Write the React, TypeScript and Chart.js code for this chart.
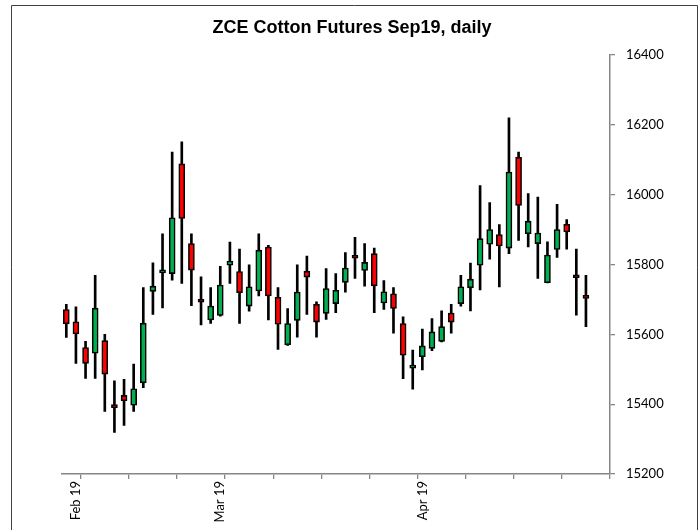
import { useEffect, useRef } from 'react';
import { Chart, registerables } from 'chart.js';

Chart.register(...registerables);

// Trading days (category axis); the last two have no data
const categories = [
  '2019-01-31', '2019-02-01',
  '2019-02-11', '2019-02-12', '2019-02-13', '2019-02-14', '2019-02-15',
  '2019-02-18', '2019-02-19', '2019-02-20', '2019-02-21', '2019-02-22',
  '2019-02-25', '2019-02-26', '2019-02-27', '2019-02-28',
  '2019-03-01',
  '2019-03-04', '2019-03-05', '2019-03-06', '2019-03-07', '2019-03-08',
  '2019-03-11', '2019-03-12', '2019-03-13', '2019-03-14', '2019-03-15',
  '2019-03-18', '2019-03-19', '2019-03-20', '2019-03-21', '2019-03-22',
  '2019-03-25', '2019-03-26', '2019-03-27', '2019-03-28', '2019-03-29',
  '2019-04-01', '2019-04-02', '2019-04-03', '2019-04-04',
  '2019-04-08', '2019-04-09', '2019-04-10', '2019-04-11', '2019-04-12',
  '2019-04-15', '2019-04-16', '2019-04-17', '2019-04-18', '2019-04-19',
  '2019-04-22', '2019-04-23', '2019-04-24', '2019-04-25', '2019-04-26',
  '2019-04-29',
];

const openValues = [
  15671, 15636, 15562, 15546, 15582, 15392, 15425, 15397, 15461, 15723,
  15776, 15774, 16088, 15860, 15694, 15641, 15654, 15798, 15780, 15681,
  15724, 15850, 15706, 15570, 15640, 15781, 15686, 15660, 15688, 15749,
  15820, 15783, 15831, 15690, 15716, 15631, 15503, 15536, 15560, 15580,
  15661, 15688, 15733, 15798, 15858, 15886, 15847, 16107, 15888, 15860,
  15748, 15843, 15915, 15764, 15709, null, null,
];
const highValues = [
  15686, 15679, 15580, 15769, 15600, 15467, 15471, 15515, 15734, 15805,
  15888, 16122, 16151, 15888, 15765, 15734, 15795, 15864, 15844, 15799,
  15888, 15855, 15734, 15674, 15799, 15824, 15693, 15788, 15774, 15834,
  15878, 15860, 15847, 15754, 15734, 15650, 15555, 15615, 15645, 15667,
  15686, 15769, 15804, 16026, 15977, 15914, 16220, 16122, 16003, 15993,
  15865, 15972, 15929, 15844, 15769, null, null,
];
const lowValues = [
  15591, 15517, 15474, 15474, 15379, 15319, 15339, 15379, 15447, 15657,
  15676, 15755, 15746, 15682, 15627, 15631, 15652, 15746, 15631, 15666,
  15710, 15641, 15557, 15568, 15592, 15657, 15592, 15643, 15662, 15721,
  15760, 15738, 15662, 15671, 15603, 15473, 15443, 15498, 15553, 15578,
  15603, 15681, 15667, 15727, 15815, 15736, 15831, 15869, 15850, 15760,
  15747, 15820, 15844, 15655, 15622, null, null,
];
const closeValues = [
  15630, 15601, 15517, 15675, 15486, 15390, 15410, 15444, 15632, 15738,
  15778, 15934, 15932, 15784, 15692, 15681, 15741, 15810, 15719, 15736,
  15841, 15710, 15629, 15631, 15721, 15764, 15635, 15731, 15726, 15790,
  15818, 15806, 15739, 15722, 15674, 15540, 15512, 15567, 15607, 15622,
  15635, 15736, 15758, 15874, 15900, 15853, 16065, 15969, 15924, 15890,
  15827, 15900, 15893, 15762, 15703, null, null,
];

const yMin = 15200;
const yMax = 16400;
const yStep = 200;
const monthNames = ['Jan', 'Feb', 'Mar', 'Apr', 'May', 'Jun', 'Jul', 'Aug', 'Sep', 'Oct', 'Nov', 'Dec'];

const TITLE = 'ZCE Cotton Futures Sep19, daily';
const UP = '#00B050';
const DOWN = '#FF0000';
const AXIS = '#868686';

const frame = {
  id: 'frame',
  afterDraw(chart: any) {
    const c = chart.ctx;
    c.save();
    c.strokeStyle = '#404040';
    c.lineWidth = 1;
    c.beginPath();
    c.moveTo(11.5, 530);
    c.lineTo(11.5, 5.5);
    c.lineTo(697.5, 5.5);
    c.lineTo(697.5, 530);
    c.stroke();
    c.restore();
  },
};

export default function App() {
  const ref = useRef<HTMLCanvasElement>(null);

  useEffect(() => {
    const bodies = categories.map((_, i) => {
      const o = openValues[i];
      const c = closeValues[i];
      if (o == null || c == null) return null;
      return [Math.min(o, c), Math.max(o, c)];
    });
    const wicks = categories.map((_, i) => {
      const l = lowValues[i];
      const h = highValues[i];
      if (l == null || h == null) return null;
      return [l, h];
    });
    const bodyColors = categories.map((_, i) => {
      const o = openValues[i];
      const c = closeValues[i];
      if (o == null || c == null) return UP;
      return c >= o ? UP : DOWN;
    });

    const tickFont = { family: 'Lato', size: 13 };

    const chart = new Chart(ref.current as HTMLCanvasElement, {
      type: 'bar',
      data: {
        labels: categories,
        datasets: [
          {
            label: 'Body',
            data: bodies as any,
            backgroundColor: bodyColors,
            borderColor: '#000000',
            borderWidth: 1.6,
            borderSkipped: false,
            barThickness: 6,
            minBarLength: 3,
            grouped: false,
            order: 0,
            xAxisID: 'x',
            yAxisID: 'y',
          } as any,
          {
            label: 'Wick',
            data: wicks as any,
            backgroundColor: '#000000',
            borderWidth: 0,
            barThickness: 2,
            grouped: false,
            order: 1,
            xAxisID: 'x',
            yAxisID: 'y',
          } as any,
        ],
      },
      options: {
        responsive: false,
        animation: false,
        layout: { padding: { left: 4, right: 0, top: 0, bottom: 0 } },
        plugins: {
          legend: { display: false },
          tooltip: { enabled: false },
          title: {
            display: true,
            text: TITLE,
            color: '#000000',
            font: { family: 'Liberation Sans', size: 18, weight: 'bold', lineHeight: 1.2 },
            padding: { top: 17, bottom: 16.4 },
          },
        },
        scales: {
          x: {
            type: 'category',
            offset: true,
            grid: {
              offset: true,
              drawOnChartArea: false,
              drawTicks: true,
              tickLength: 5,
              lineWidth: 1.3,
              color: (ctx: any) =>
                ctx.index === undefined || ctx.index % 5 === 2 ? AXIS : 'rgba(0,0,0,0)',
            },
            border: { display: true, color: AXIS, width: 1.5 },
            ticks: {
              autoSkip: false,
              maxRotation: 90,
              minRotation: 90,
              padding: 2,
              color: '#000000',
              font: tickFont,
              callback: (_v: any, i: number) => {
                if (i === 0) return '';
                const cur = categories[i];
                const prev = categories[i - 1];
                if (cur.slice(5, 7) === prev.slice(5, 7)) return '';
                const m = parseInt(cur.slice(5, 7), 10) - 1;
                return `${monthNames[m]} ${cur.slice(2, 4)}`;
              },
            },
            afterFit: (s: any) => {
              s.height = 56;
            },
          },
          y: {
            position: 'right',
            min: yMin,
            max: yMax,
            grid: {
              drawOnChartArea: false,
              drawTicks: true,
              tickLength: 5,
              lineWidth: 1.3,
              color: AXIS,
            },
            border: { display: true, color: AXIS, width: 1.5 },
            ticks: {
              stepSize: yStep,
              padding: 11,
              color: '#000000',
              font: tickFont,
              callback: (v: any) => String(v),
            },
            afterFit: (s: any) => {
              s.width = 90;
            },
          },
          yl: {
            position: 'left',
            display: true,
            grid: { display: false },
            border: { display: false },
            ticks: { display: false },
            afterFit: (s: any) => {
              s.width = 57.5;
            },
          },
        },
      } as any,
      plugins: [frame],
    });
    return () => chart.destroy();
  }, []);

  return (
    <div style={{ position: 'absolute', left: 0, top: 0, width: 700, height: 530, background: '#ffffff' }}>
      <canvas ref={ref} width={700} height={530} />
    </div>
  );
}
